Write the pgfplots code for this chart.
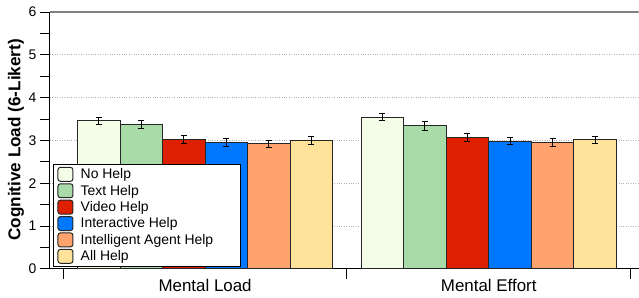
\documentclass[border=0pt]{standalone}
\usepackage{fontspec}
\setmainfont{Liberation Sans}
\usepackage{pgfplots}
\pgfplotsset{compat=1.18}
\definecolor{cNo}{HTML}{F4FDE8}
\definecolor{cText}{HTML}{A8DBA8}
\definecolor{cVideo}{HTML}{DF2000}
\definecolor{cInter}{HTML}{0077FF}
\definecolor{cAgent}{HTML}{FFA36E}
\definecolor{cAll}{HTML}{FFE39B}
\begin{document}
\begin{tikzpicture}
\path (-50bp,-29bp) rectangle (589bp,269bp);
\begin{axis}[
  scale only axis, width=589bp, height=257bp,
  xmin=-0.547, xmax=1.528, ymin=0, ymax=6,
  ybar=0pt,
  axis x line*=bottom, axis y line*=left,
  axis line style={black, line width=1bp},
  /pgf/number format/assume math mode=true,
  ytick={0,1,2,3,4,5,6}, minor y tick num=1,
  tick align=outside, major tick length=10bp, minor tick length=10bp,
  every tick/.style={black, line width=0.9bp},
  xtick={-0.5,0.5,1.5}, xticklabels={},
  extra x ticks={0,1}, extra x tick labels={Mental Load, Mental Effort},
  extra x tick style={major tick length=0pt, xticklabel style={yshift=-7bp}},
  ticklabel style={font=\fontsize{14}{15}\selectfont},
  xticklabel style={font=\fontsize{17}{18}\selectfont},
  ymajorgrids, grid style={dotted, gray!60, line width=0.7bp},
  ylabel={\textbf{Cognitive Load (6-Likert)}},
  ylabel style={at={(axis description cs:-0.0578,0.502)}, anchor=center, font=\fontsize{17.2}{18}\selectfont},
  bar width=0.15,
  error bars/y dir=both, error bars/y explicit,
  error bars/error bar style={black, line width=0.9bp},
  error bars/error mark options={black, rotate=90, mark size=3bp, line width=0.9bp},
  legend image code/.code={\draw[#1, rounded corners=2.5bp] (0bp,-7bp) rectangle (15bp,7bp);},
  legend cell align=left,
  legend style={at={(axis description cs:0.0051,0.0078)}, anchor=south west,
    draw=black, line width=1bp, fill=white, inner xsep=4bp, inner ysep=2.5bp,
    row sep=1.4bp, column sep=4bp,
    nodes={inner ysep=1.1bp, inner xsep=3.3bp},
    font=\fontsize{14}{15}\selectfont},
]
\addplot[fill=cNo, draw=black!85, line width=1bp, bar shift=-0.375] coordinates {(0,3.46) +- (0,0.085) (1,3.54) +- (0,0.085)};
\addlegendentry{\makebox[153bp][l]{No Help}}
\addplot[fill=cText, draw=black!85, line width=1bp, bar shift=-0.225] coordinates {(0,3.37) +- (0,0.09) (1,3.34) +- (0,0.105)};
\addlegendentry{Text Help}
\addplot[fill=cVideo, draw=black!85, line width=1bp, bar shift=-0.075] coordinates {(0,3.02) +- (0,0.09) (1,3.07) +- (0,0.093)};
\addlegendentry{Video Help}
\addplot[fill=cInter, draw=black!85, line width=1bp, bar shift=0.075] coordinates {(0,2.95) +- (0,0.09) (1,2.98) +- (0,0.085)};
\addlegendentry{Interactive Help}
\addplot[fill=cAgent, draw=black!85, line width=1bp, bar shift=0.225] coordinates {(0,2.92) +- (0,0.08) (1,2.95) +- (0,0.093)};
\addlegendentry{Intelligent Agent Help}
\addplot[fill=cAll, draw=black!85, line width=1bp, bar shift=0.375] coordinates {(0,3.00) +- (0,0.085) (1,3.01) +- (0,0.09)};
\addlegendentry{All Help}
\draw[gray, line width=1.5bp] (rel axis cs:0,1) -- (rel axis cs:1,1);
\end{axis}
\end{tikzpicture}
\end{document}
